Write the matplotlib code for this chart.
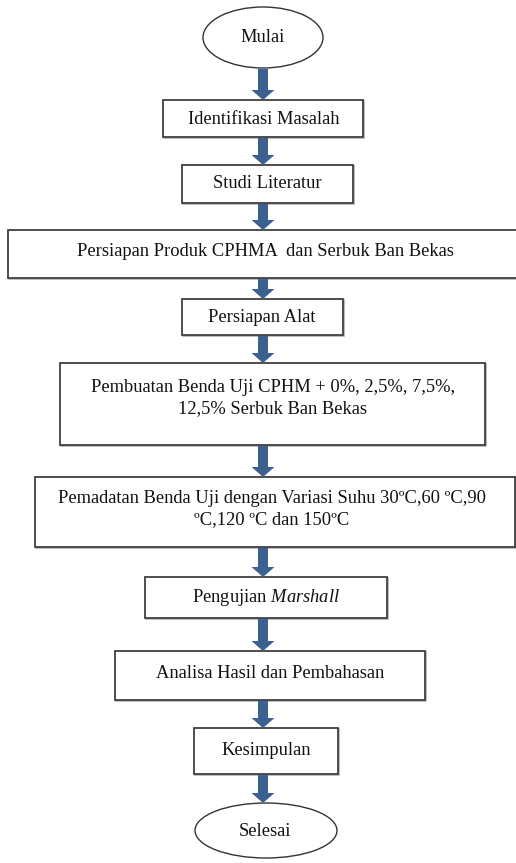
import matplotlib
matplotlib.use("Agg")
import matplotlib.pyplot as plt
from matplotlib.patches import Rectangle, Ellipse, FancyArrow

plt.rcParams['font.family'] = ['Liberation Serif', 'DejaVu Serif']
plt.rcParams['mathtext.fontset'] = 'custom'
plt.rcParams['mathtext.rm'] = 'Liberation Serif'
plt.rcParams['mathtext.it'] = 'Liberation Serif:italic'

# flowchart steps, top to bottom
labels = [
    "Mulai",
    "Identifikasi Masalah",
    "Studi Literatur",
    "Persiapan Produk CPHMA  dan Serbuk Ban Bekas",
    "Persiapan Alat",
    "Pembuatan Benda Uji CPHM + 0%, 2,5%, 7,5%,\n12,5% Serbuk Ban Bekas",
    "Pemadatan Benda Uji dengan Variasi Suhu 30ºC,60 ºC,90\nºC,120 ºC dan 150ºC",
    "Pengujian $\\mathit{Marshall}$",
    "Analisa Hasil dan Pembahasan",
    "Kesimpulan",
    "Selesai",
]
shapes = ["ellipse", "box", "box", "box", "box", "box", "box", "box", "box", "box", "ellipse"]

# layout in pixel units: (left, top, right, bottom)
frames = [
    (203, 7, 323, 68),
    (163, 100, 363, 137),
    (182, 165, 353, 203),
    (8, 230, 530, 278),
    (182, 299, 343, 335),
    (60, 363, 485, 445),
    (35, 477, 515, 547),
    (145, 577, 387, 618),
    (115, 651, 425, 700),
    (194, 728, 338, 774),
    (195, 803, 337, 858),
]
text_pos = [
    (263, 37), (264, 119), (267, 184), (265, 251), (262, 317),
    (273, 398), (272, 509), (266, 597), (270, 673), (266, 750), (265, 831),
]

W, H = 516, 863
fig = plt.figure(figsize=(W / 100, H / 100), dpi=100)
ax = fig.add_axes([0, 0, 1, 1])
ax.set_xlim(0, W)
ax.set_ylim(H, 0)
ax.axis('off')

arrow_color = '#3c6191'
edge_color = '#404040'

for lab, shp, (x0, y0, x1, y1), (tx, ty) in zip(labels, shapes, frames, text_pos):
    if shp == "ellipse":
        ax.add_patch(Ellipse(((x0 + x1) / 2, (y0 + y1) / 2), x1 - x0, y1 - y0,
                             facecolor='white', edgecolor='#333333', lw=1.0))
    else:
        # soft shadow line then the frame
        ax.add_patch(Rectangle((x0 + 1, y0 + 1), x1 - x0, y1 - y0,
                               facecolor='none', edgecolor='#b0b0b0', lw=1.2))
        ax.add_patch(Rectangle((x0, y0), x1 - x0, y1 - y0,
                               facecolor='white', edgecolor=edge_color, lw=1.3))
    ax.text(tx, ty, lab, ha='center', va='center', fontsize=13.3,
            color='#111111', linespacing=1.25)

# arrows between consecutive steps
for (a, b) in zip(frames[:-1], frames[1:]):
    y_start = a[3] + 1
    y_end = b[1]
    ax.add_patch(FancyArrow(263, y_start, 0, y_end - y_start, width=10,
                            head_width=23, head_length=10,
                            length_includes_head=True,
                            color=arrow_color, lw=0))

fig.savefig("out.png", dpi=100)
